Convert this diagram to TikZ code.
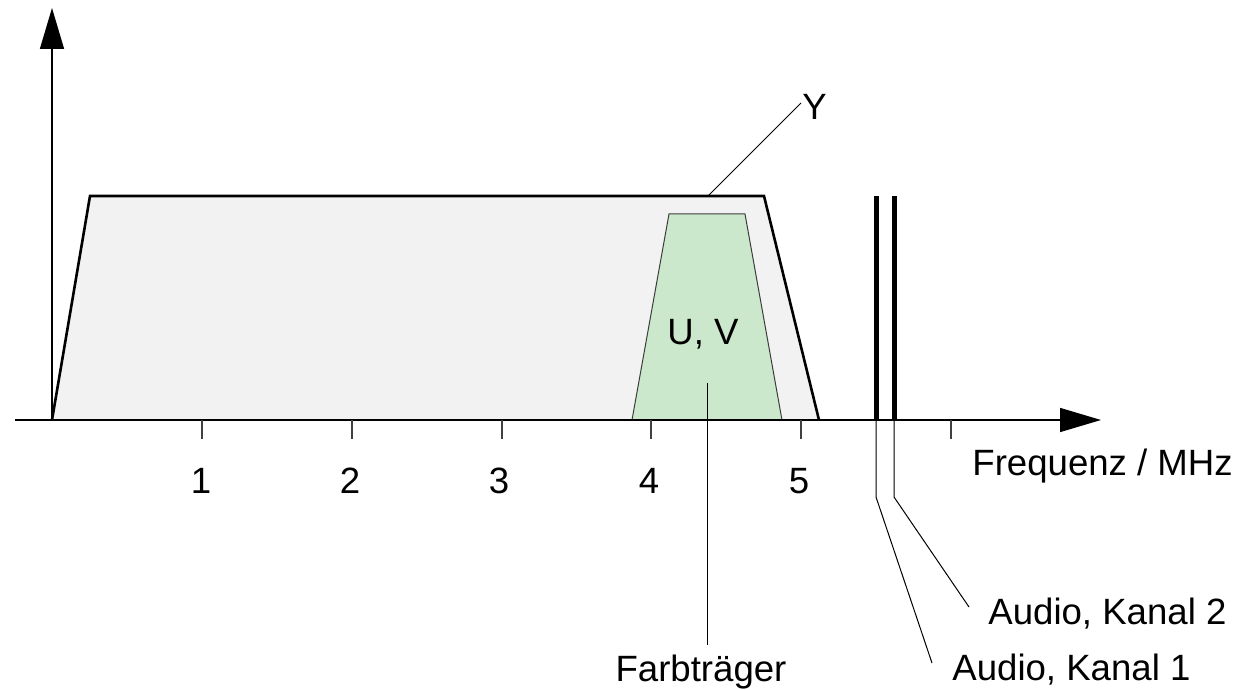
\documentclass[tikz,border=0pt]{standalone}
\usepackage{fontspec}
\setmainfont{Liberation Sans}
\usetikzlibrary{arrows.meta}
\definecolor{ygray}{RGB}{242,242,242}
\definecolor{uvgreen}{RGB}{204,232,204}
\definecolor{uvline}{RGB}{60,60,60}
\begin{document}
\begin{tikzpicture}[x=0.5pt,y=-0.5pt,
  lbl/.style={inner sep=0pt,font=\fontsize{18.3}{22}\selectfont},
  axisline/.style={line width=0.75pt,-{Triangle[length=20.5pt,width=12pt]}},
  tickline/.style={line width=0.7pt,draw=black!75},
  band/.style={line width=1.3pt,line join=miter},
  thin/.style={line width=0.5pt},
  audioline/.style={line width=2.5pt}]
\useasboundingbox (0,0) rectangle (1239,690);
% Y band
\coordinate (y1) at (52,420);
\coordinate (y2) at (90,196);
\coordinate (y3) at (764,196);
\coordinate (y4) at (819,420);
\draw[band,fill=ygray] (y1) -- (y2) -- (y3) -- (y4);
% UV band
\coordinate (g1) at (632,420);
\coordinate (g2) at (669,214);
\coordinate (g3) at (745,214);
\coordinate (g4) at (782,420);
\filldraw[thin,draw=uvline,fill=uvgreen] (g1) -- (g2) -- (g3) -- (g4);
% axes
\coordinate (xstart) at (15,420);
\coordinate (xend) at (1101,420);
\coordinate (o) at (52,420);
\coordinate (yend) at (52,8);
\draw[axisline] (xstart) -- (xend);
\draw[axisline] (o) -- (yend);
% ticks
\foreach \i/\x in {1/202,2/352,3/502,4/651,5/801,6/951}{
  \coordinate (t\i) at (\x,420);
  \draw[tickline] (t\i) -- ++(0,19);
}
\foreach \i/\x in {1/201,2/350,3/499,4/649,5/799}{
  \node[lbl,anchor=base] (n\i) at (\x,493) {\i};
}
\node[lbl,anchor=base west] (freq) at (972,475) {Frequenz / MHz};
% labels
\node[lbl,anchor=base] (uv) at (703,344) {U, V};
\node[lbl,anchor=base west] (ylab) at (802,120) {Y};
\coordinate (yl1) at (708,196);
\coordinate (yl2) at (801,103);
\draw[thin] (yl1) -- (yl2);
% Farbtraeger
\node[lbl,anchor=base] (farb) at (701,681) {Farbträger};
\coordinate (f1) at (707,383);
\coordinate (f2) at (707,645);
\draw[thin] (f1) -- (f2);
% Audio lines
\coordinate (a1t) at (876,196);
\coordinate (a1b) at (876,420);
\coordinate (a2t) at (894,196);
\coordinate (a2b) at (894,420);
\draw[audioline] (a1t) -- (a1b);
\draw[audioline] (a2t) -- (a2b);
\node[lbl,anchor=base west] (k2) at (988,624) {Audio, Kanal 2};
\node[lbl,anchor=base west] (k1) at (952,680) {Audio, Kanal 1};
\coordinate (a1k) at (876,497);
\coordinate (a2k) at (894,497);
\coordinate (k1e) at (932,663);
\coordinate (k2e) at (969,607);
\draw[thin] (a1b) -- (a1k) -- (k1e);
\draw[thin] (a2b) -- (a2k) -- (k2e);
\end{tikzpicture}
\end{document}
